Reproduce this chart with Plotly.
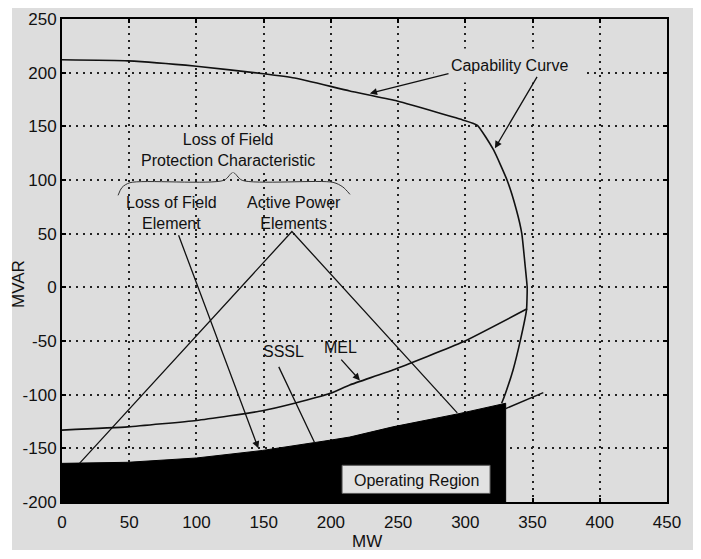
import plotly.graph_objects as go

# generator capability curve (MW, MVAR)
cap_mw = [0, 49, 100, 150, 173, 214, 248, 298, 309, 321, 331, 338, 342, 344.5, 346, 345.5, 341, 335.5, 329.5, 327]
cap_mvar = [212, 211, 206, 199, 195, 183, 174, 156, 151, 128, 100, 72, 50, 20, 0, -21, -49, -77, -100, -108]

# minimum excitation limiter (MEL)
mel_mw = [0, 49, 100, 149, 173, 199, 214, 246, 298, 346]
mel_mvar = [-133, -130, -124, -115, -108, -99, -91, -77, -51, -20]

# operating region (black) - top edge, closed down to the axis floor
oper_mw = [0, 49, 100, 149, 199, 214, 246, 296, 330]
oper_mvar = [-164, -163, -159, -152, -142.5, -139.5, -130, -117.5, -108]
floor_mvar = -200

# SSSL continuation beyond the operating region
sssl_mw = [330, 358]
sssl_mvar = [-113, -98]

# active power element pointer lines
ape_mw = [13, 171, 294]
ape_mvar = [-164, 52, -117]

# brace under "Loss of Field Protection Characteristic"
brace_mw = [41.7, 44.6, 50.6, 120.4, 127.2, 134, 201.6, 208.9, 214.2]
brace_mvar = [85.7, 93, 97.5, 99.7, 107.1, 99.7, 97.8, 93.5, 86.6]

x_ticks = [0, 50, 100, 150, 200, 250, 300, 350, 400, 450]
x_labels = ["0", "50", "100", "150", "200", "250", "300", "350", "400", "450"]
y_ticks = [-200, -150, -100, -50, 0, 50, 100, 150, 200, 250]
y_labels = ["-200", "-150", "-100", "-50", "0", "50", "100", "150", "200", "250"]

bg = "#dddddd"
ink = "#111111"
font_name = "Liberation Sans, Arial, sans-serif"

fig = go.Figure()

fig.add_trace(go.Scatter(
    x=oper_mw + [oper_mw[-1], oper_mw[0]],
    y=oper_mvar + [floor_mvar, floor_mvar],
    fill="toself", fillcolor="black", mode="lines",
    line=dict(color="black", width=1), hoverinfo="skip",
))
fig.add_trace(go.Scatter(x=cap_mw, y=cap_mvar, mode="lines",
                         line=dict(color=ink, width=1.6, shape="spline", smoothing=0.4)))
fig.add_trace(go.Scatter(x=mel_mw, y=mel_mvar, mode="lines",
                         line=dict(color=ink, width=1.6, shape="spline", smoothing=0.4)))
fig.add_trace(go.Scatter(x=sssl_mw, y=sssl_mvar, mode="lines",
                         line=dict(color=ink, width=1.4)))
fig.add_trace(go.Scatter(x=ape_mw, y=ape_mvar, mode="lines",
                         line=dict(color=ink, width=1.3)))
fig.add_trace(go.Scatter(x=brace_mw, y=brace_mvar, mode="lines",
                         line=dict(color="#333", width=1, shape="spline", smoothing=0.8)))

tfont = dict(family=font_name, size=16, color=ink)
nb = "\u00a0"

annots = [
    dict(x=333, y=207, text=nb * 2 + "Capability Curve" + nb * 2, showarrow=False,
         bgcolor=bg, borderpad=8),
    dict(x=123.5, y=127.6, text="Loss of Field<br>Protection Characteristic", showarrow=False,
         bgcolor=bg, borderpad=3),
    dict(x=81.8, y=69, text="Loss of Field<br>Element", showarrow=False),
    dict(x=172.6, y=69, text="Active Power<br>Elements", showarrow=False),
    dict(x=165, y=-60, text="SSSL", showarrow=False),
    dict(x=207, y=-56, text="MEL", showarrow=False),
]
# pointer arrows (tail -> head)
arrows = [
    (288.6, 199.4, 229, 180.7, 2),
    (354, 197.5, 322, 129.5, 2),
    (86.3, 50, 146, -150, 2),
    (206.7, -66, 221.6, -86.7, 2),
    (160.7, -72.7, 188, -145, 0),
]
for ax0, ay0, x1, y1, head in arrows:
    annots.append(dict(x=x1, y=y1, ax=ax0, ay=ay0, axref="x", ayref="y", text="",
                       showarrow=True, arrowhead=head, arrowsize=1.1, arrowwidth=1.3,
                       arrowcolor=ink))
for a in annots:
    a.setdefault("xref", "x")
    a.setdefault("yref", "y")
    a["font"] = tfont
    fig.add_annotation(**a)

# axis labels
fig.add_annotation(xref="paper", yref="paper", x=(367 - 62) / 605, y=(502 - 541) / 483,
                   xanchor="center", yanchor="middle",
                   text="MW", showarrow=False, font=dict(family=font_name, size=17, color=ink))
fig.add_annotation(xref="paper", yref="paper", x=(18 - 62) / 605, y=(502 - 284) / 483,
                   xanchor="center", yanchor="middle",
                   text="MVAR", textangle=-90, showarrow=False,
                   font=dict(family=font_name, size=17, color=ink))

# Operating Region label box
fig.add_shape(type="rect", x0=208.3, x1=318.4, y0=-192, y1=-165.8,
              fillcolor="#e2e2e2", line=dict(color="#555", width=1), layer="above")
fig.add_annotation(x=263.4, y=-179.5, text="Operating Region", showarrow=False, font=tfont)

# grey page with white scan border
fig.add_shape(type="rect", xref="paper", yref="paper",
              x0=(12 - 62) / 605, x1=(701 - 62) / 605,
              y0=(502 - 550) / 483, y1=(502 - 5) / 483,
              fillcolor=bg, line=dict(width=0), layer="below")

axis_common = dict(
    showline=True, linecolor="black", linewidth=2, mirror="ticks",
    ticks="inside", ticklen=4, tickcolor="black", tickwidth=1.5,
    showgrid=True, gridcolor="#222", gridwidth=2, griddash="2px,5px",
    zeroline=False, automargin=False,
    tickfont=dict(family=font_name, size=17, color=ink),
)
fig.update_xaxes(range=[0, 450], tickvals=x_ticks, ticktext=x_labels,
                 ticklabelstandoff=4, **axis_common)
fig.update_yaxes(range=[-200, 250], tickvals=y_ticks, ticktext=y_labels, **axis_common)

# the page body adds an 8px offset, so the figure is 8px smaller and shifted
fig.update_layout(
    width=693, height=551,
    margin=dict(l=54, r=34, t=11, b=57),
    paper_bgcolor="white", plot_bgcolor=bg,
    showlegend=False,
    font=dict(family=font_name, color=ink),
)

fig.write_html("out.html")
